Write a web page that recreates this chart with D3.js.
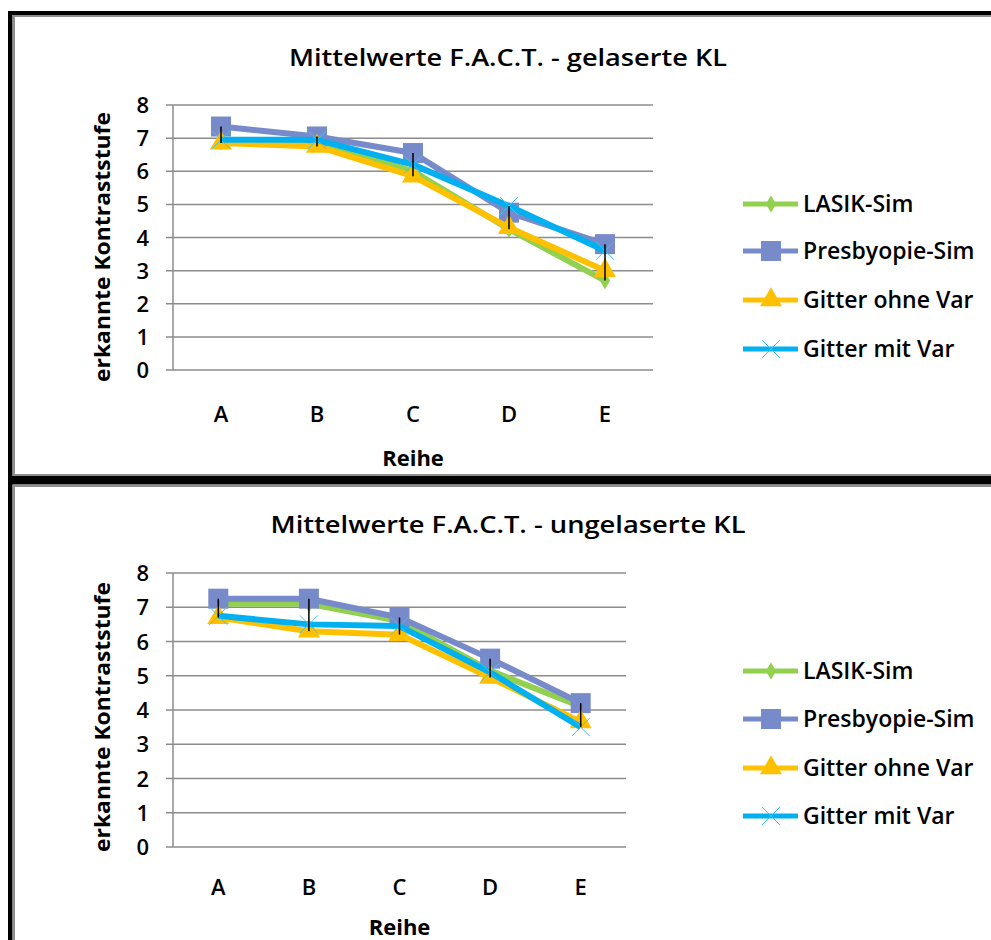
<!DOCTYPE html>
<html>
<head>
<meta charset="utf-8">
<script src="https://cdn.jsdelivr.net/npm/d3@7"></script>
<style>
  body { margin: 0; background: #fff; }
  svg { display: block; }
  text { font-family: "Open Sans", "Noto Sans", sans-serif; fill: #000; font-weight: 600; }
</style>
</head>
<body>
<div id="chart"></div>
<script>
// categories and series
const categories = ["A", "B", "C", "D", "E"];
const seriesNames = ["LASIK-Sim", "Presbyopie-Sim", "Gitter ohne Var", "Gitter mit Var"];
const yTicks = [0, 1, 2, 3, 4, 5, 6, 7, 8];

const gelasertLasik       = [6.9, 6.9, 6.0, 4.25, 2.7];
const gelasertPresbyopie  = [7.35, 7.05, 6.55, 4.75, 3.8];
const gelasertGitterOhne  = [6.85, 6.75, 5.85, 4.3, 3.0];
const gelasertGitterMit   = [6.95, 6.95, 6.2, 4.95, 3.6];

const ungelasertLasik      = [7.1, 7.1, 6.6, 5.15, 4.1];
const ungelasertPresbyopie = [7.25, 7.25, 6.7, 5.5, 4.2];
const ungelasertGitterOhne = [6.7, 6.3, 6.2, 4.95, 3.65];
const ungelasertGitterMit  = [6.75, 6.5, 6.45, 5.1, 3.5];

const colors = ["#92D050", "#778BCB", "#FFC000", "#00B0F0"];

var width = 991, height = 940;

var svg = d3.select("#chart").append("svg")
    .attr("width", width)
    .attr("height", height);

// outer frame: black bars + grey inner borders
svg.append("rect").attr("x", 8).attr("y", 11).attr("width", width - 8).attr("height", 4).attr("fill", "#000");
svg.append("rect").attr("x", 8).attr("y", 11).attr("width", 4.5).attr("height", height - 11).attr("fill", "#000");
svg.append("rect").attr("x", 8).attr("y", 476).attr("width", width - 8).attr("height", 8.5).attr("fill", "#000");
svg.append("rect").attr("x", 14).attr("y", 16).attr("width", width).attr("height", 459)
    .attr("fill", "none").attr("stroke", "#8f8f8f").attr("stroke-width", 2);
svg.append("rect").attr("x", 14).attr("y", 486).attr("width", width).attr("height", 500)
    .attr("fill", "none").attr("stroke", "#8f8f8f").attr("stroke-width", 2);

function drawChart(cfg) {
  var g = svg.append("g");
  var x = d3.scaleBand().domain(categories).range([cfg.left, cfg.right]);
  var y = d3.scaleLinear().domain([0, 8]).range([cfg.bottom, cfg.top]);
  var cx = function(c) { return x(c) + x.bandwidth() / 2; };

  // title
  g.append("text")
      .attr("x", cfg.titleX).attr("y", cfg.titleY)
      .attr("text-anchor", "middle")
      .attr("textLength", cfg.titleWidth).attr("lengthAdjust", "spacingAndGlyphs")
      .style("font-size", "24px")
      .text(cfg.title);

  // grid
  g.selectAll(".grid").data(yTicks).enter().append("line")
      .attr("x1", cfg.left - 7).attr("x2", cfg.right)
      .attr("y1", d => y(d)).attr("y2", d => y(d))
      .attr("stroke", "#8c8c8c").attr("stroke-width", 1.5);
  g.append("line")
      .attr("x1", cfg.left).attr("x2", cfg.left)
      .attr("y1", y(8)).attr("y2", y(0))
      .attr("stroke", "#8c8c8c").attr("stroke-width", 1.5);

  // y tick labels
  g.selectAll(".ytick").data(yTicks).enter().append("text")
      .attr("x", cfg.left - 24).attr("y", d => y(d) + 8)
      .attr("text-anchor", "end")
      .style("font-size", "22px")
      .text(d => d);

  // x tick labels
  g.selectAll(".xtick").data(categories).enter().append("text")
      .attr("x", d => cx(d)).attr("y", cfg.xLabelY)
      .attr("text-anchor", "middle")
      .style("font-size", "22px")
      .text(d => d);

  g.append("text")
      .attr("x", (cfg.left + cfg.right) / 2).attr("y", cfg.xTitleY)
      .attr("text-anchor", "middle")
      .style("font-size", "22px").style("font-weight", "bold")
      .text("Reihe");

  g.append("text")
      .attr("transform", "translate(110," + cfg.yTitleY + ") rotate(-90)")
      .attr("text-anchor", "middle")
      .attr("textLength", 270).attr("lengthAdjust", "spacingAndGlyphs")
      .style("font-size", "22px").style("font-weight", "bold")
      .text("erkannte Kontraststufe");

  var line = d3.line()
      .x((d, i) => cx(categories[i]))
      .y(d => y(d));

  cfg.series.forEach(function(vals, si) {
    g.append("path")
        .attr("d", line(vals))
        .attr("fill", "none")
        .attr("stroke", colors[si])
        .attr("stroke-width", 6)
        .attr("stroke-linejoin", "round");
    g.selectAll(".m" + si).data(vals).enter().append("path")
        .attr("transform", (d, i) => "translate(" + cx(categories[i]) + "," + y(d) + ")")
        .call(marker, si);
  });

  // high-low lines
  g.selectAll(".hilo").data(categories).enter().append("line")
      .attr("x1", d => cx(d)).attr("x2", d => cx(d))
      .attr("y1", (d, i) => y(d3.max(cfg.series, s => s[i])))
      .attr("y2", (d, i) => y(d3.min(cfg.series, s => s[i])))
      .attr("stroke", "#000").attr("stroke-width", 1.5);

  // legend
  var leg = g.selectAll(".leg").data(seriesNames).enter().append("g")
      .attr("transform", (d, i) => "translate(743," + cfg.legendY[i] + ")");
  leg.append("line")
      .attr("x1", 0).attr("x2", 55)
      .attr("stroke", (d, i) => colors[i]).attr("stroke-width", 5);
  leg.append("path")
      .attr("transform", "translate(28,0)")
      .each(function(d, i) { d3.select(this).call(marker, i); });
  leg.append("text")
      .attr("x", 60).attr("y", 8)
      .style("font-size", "23px")
      .text(d => d);
}

function marker(sel, si) {
  if (si === 0) {
    sel.attr("d", d3.symbol().type(d3.symbolDiamond).size(90)).attr("fill", colors[0]);
  } else if (si === 1) {
    sel.attr("d", d3.symbol().type(d3.symbolSquare).size(400)).attr("fill", colors[1]);
  } else if (si === 2) {
    sel.attr("d", d3.symbol().type(d3.symbolTriangle).size(210)).attr("fill", colors[2]);
  } else {
    sel.attr("d", "M-9,-9L9,9M-9,9L9,-9").attr("fill", "none")
       .attr("stroke", "#3cc4f4").attr("stroke-width", 1);
  }
}

drawChart({
  title: "Mittelwerte F.A.C.T. - gelaserte KL",
  titleX: 508, titleY: 66, titleWidth: 438,
  left: 173, right: 653, top: 105, bottom: 370,
  xLabelY: 422, xTitleY: 466, yTitleY: 247,
  legendY: [204, 251, 300, 349],
  series: [gelasertLasik, gelasertPresbyopie, gelasertGitterOhne, gelasertGitterMit]
});

drawChart({
  title: "Mittelwerte F.A.C.T. - ungelaserte KL",
  titleX: 508, titleY: 533, titleWidth: 475,
  left: 173, right: 626, top: 573, bottom: 847,
  xLabelY: 895, xTitleY: 935, yTitleY: 717,
  legendY: [671, 719, 768, 816],
  series: [ungelasertLasik, ungelasertPresbyopie, ungelasertGitterOhne, ungelasertGitterMit]
});
</script>
</body>
</html>
